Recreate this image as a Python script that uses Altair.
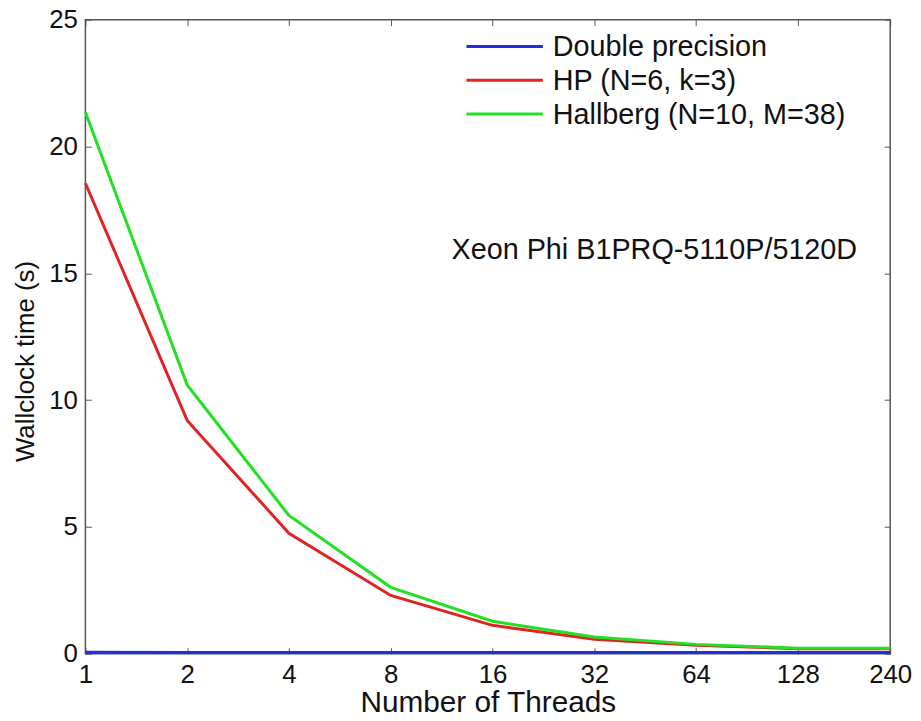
import altair as alt
import pandas as pd

threads = [1, 2, 4, 8, 16, 32, 64, 128, 240]
double_precision = [0.06, 0.05, 0.05, 0.05, 0.05, 0.05, 0.05, 0.05, 0.05]
hp_values = [18.55, 9.2, 4.75, 2.3, 1.12, 0.57, 0.33, 0.2, 0.2]
hallberg_values = [21.35, 10.6, 5.45, 2.62, 1.28, 0.66, 0.37, 0.22, 0.22]

series_names = ["Double precision", "HP (N=6, k=3)", "Hallberg (N=10, M=38)"]
series_colors = ["#1f2fe0", "#e02424", "#22e022"]
y_ticks = [0, 5, 10, 15, 20, 25]

annotation = ["Xeon Phi B1PRQ-5110P/5120D"]
annotation_x = [12.1]
annotation_y = [15.55]

rows = []
for name, vals in zip(series_names, [double_precision, hp_values, hallberg_values]):
    for t, v in zip(threads, vals):
        rows.append({"threads": t, "time": v, "series": name})
df = pd.DataFrame(rows)
legend_df = pd.DataFrame({"series": series_names})

FONT = "Liberation Sans"
x_scale = alt.Scale(type="log", base=2, domain=[1, 240], nice=False)
y_scale = alt.Scale(domain=[0, 25], nice=False, zero=False)
color_scale = alt.Scale(domain=series_names, range=series_colors)

lines = alt.Chart(df).mark_line(strokeWidth=3).encode(
    x=alt.X("threads:Q", scale=x_scale,
            axis=alt.Axis(values=threads, title="Number of Threads", orient="bottom",
                          offset=-6, domain=False, tickSize=6, tickColor="#555",
                          labelPadding=8, labelFlush=False, labelOverlap=False,
                          format="d", grid=False, titlePadding=0, titleFontSize=30)),
    y=alt.Y("time:Q", scale=y_scale,
            axis=alt.Axis(values=y_ticks, title="Wallclock time (s)", orient="left",
                          offset=-6, domain=False, tickSize=6, tickColor="#555",
                          labelPadding=8, labelOverlap=False, labelFlush=False,
                          grid=False, titlePadding=10, titleFontSize=26, titleY=344)),
    color=alt.Color("series:N", scale=color_scale, sort=series_names, legend=None),
)

frame_axes = alt.Chart(df).mark_line(opacity=0).encode(
    x=alt.X("threads:Q", scale=x_scale,
            axis=alt.Axis(values=threads, title=None, orient="top", labels=False,
                          offset=-6, domain=False, tickSize=6, tickColor="#555", grid=False)),
    y=alt.Y("time:Q", scale=y_scale,
            axis=alt.Axis(values=y_ticks, title=None, orient="right", labels=False,
                          offset=-6, domain=False, tickSize=6, tickColor="#555", grid=False)),
)

ann_df = pd.DataFrame({"label": annotation, "ax": annotation_x, "ay": annotation_y})
text = alt.Chart(ann_df).mark_text(font=FONT, fontSize=29, color="#111", align="left",
                                   baseline="alphabetic").encode(
    x=alt.X("ax:Q", scale=x_scale, axis=None),
    y=alt.Y("ay:Q", scale=y_scale, axis=None),
    text="label:N",
)

# legend (drawn as its own small layer, positioned in the upper right of the plot)
legend_y = alt.Y("series:N", sort=series_names,
                 scale=alt.Scale(type="point", domain=series_names, range=[27, 95], padding=0),
                 axis=None)
legend_lines = alt.Chart(legend_df).mark_rule(strokeWidth=3).encode(
    x=alt.value(384), x2=alt.value(461), y=legend_y,
    color=alt.Color("series:N", scale=color_scale, legend=None),
)
legend_text = alt.Chart(legend_df).mark_text(
    font=FONT, fontSize=29, color="#111", align="left", baseline="middle", dy=1
).encode(
    x=alt.value(471), y=legend_y, text="series:N",
)
legend = alt.layer(legend_lines, legend_text)

chart = alt.layer(lines, text, frame_axes, legend).resolve_axis(
    x="independent", y="independent"
).resolve_scale(
    y="independent"
).properties(
    width=811, height=639,
    autosize=alt.AutoSizeParams(type="none"),
    padding={"left": 78, "top": 9, "right": 23, "bottom": 62},
).configure_view(
    stroke="#555", strokeWidth=1.5
).configure_axis(
    labelFont=FONT, titleFont=FONT, labelFontSize=26,
    labelColor="#111", titleColor="#111", titleFontWeight="normal"
)

chart.save("out.html", embed_options={"renderer": "svg", "actions": False})
